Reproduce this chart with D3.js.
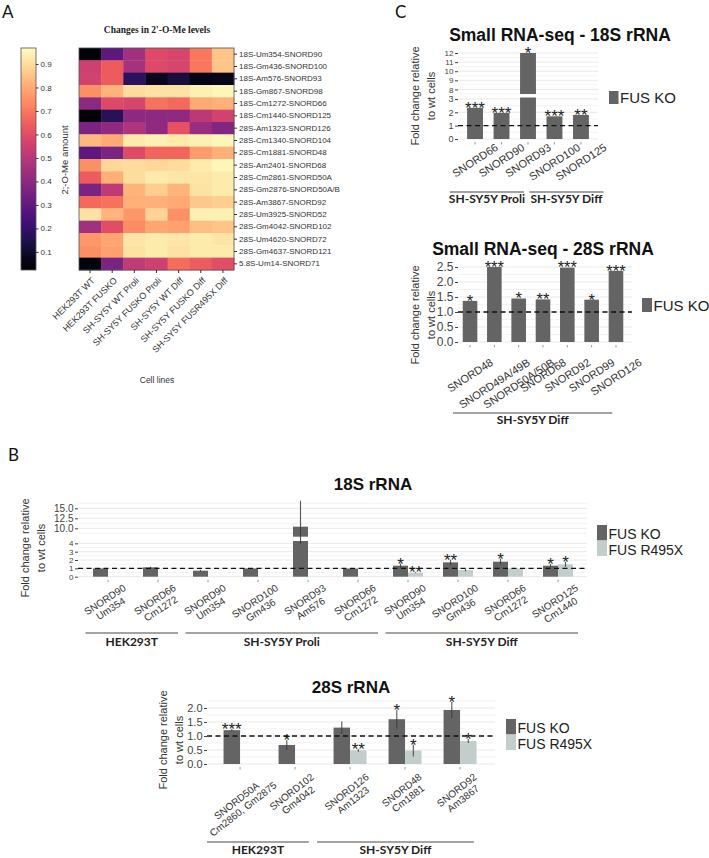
<!DOCTYPE html>
<html>
<head>
<meta charset="utf-8">
<script src="https://cdn.jsdelivr.net/npm/d3@7"></script>
<style>
  body { margin: 0; background: #fff; }
  svg { display: block; }
</style>
</head>
<body>
<svg id="fig" width="709" height="858"></svg>
<script>
// ---------- A: heatmap of 2'-O-Me levels ----------
const cellLines = ["HEK293T WT", "HEK293T FUSKO", "SH-SY5Y WT Proli", "SH-SY5Y FUSKO Proli",
  "SH-SY5Y WT Diff", "SH-SY5Y FUSKO Diff", "SH-SY5Y FUSR495X Diff"]
const sites = ["18S-Um354-SNORD90", "18S-Gm436-SNORD100", "18S-Am576-SNORD93", "18S-Gm867-SNORD98",
  "18S-Cm1272-SNORD66", "18S-Cm1440-SNORD125", "28S-Am1323-SNORD126", "28S-Cm1340-SNORD104",
  "28S-Cm1881-SNORD48", "28S-Am2401-SNORD68", "28S-Cm2861-SNORD50A", "28S-Gm2876-SNORD50A/B",
  "28S-Am3867-SNORD92", "28S-Um3925-SNORD52", "28S-Gm4042-SNORD102", "28S-Um4620-SNORD72",
  "28S-Gm4637-SNORD121", "5.8S-Um14-SNORD71"]
const meLevels = [
  [0.04, 0.29, 0.45, 0.59, 0.57, 0.70, 0.85],
  [0.55, 0.64, 0.46, 0.59, 0.57, 0.70, 0.85],
  [0.56, 0.64, 0.18, 0.08, 0.13, 0.06, 0.07],
  [0.75, 0.82, 0.90, 0.91, 0.91, 0.94, 0.95],
  [0.40, 0.59, 0.57, 0.69, 0.67, 0.80, 0.81],
  [0.04, 0.17, 0.40, 0.40, 0.41, 0.51, 0.56],
  [0.36, 0.41, 0.48, 0.41, 0.61, 0.43, 0.38],
  [0.83, 0.80, 0.93, 0.94, 0.93, 0.94, 0.95],
  [0.29, 0.36, 0.59, 0.66, 0.66, 0.77, 0.81],
  [0.75, 0.89, 0.90, 0.89, 0.90, 0.93, 0.95],
  [0.64, 0.81, 0.90, 0.93, 0.92, 0.92, 0.93],
  [0.36, 0.52, 0.82, 0.87, 0.82, 0.91, 0.93],
  [0.67, 0.69, 0.81, 0.81, 0.80, 0.86, 0.87],
  [0.91, 0.82, 0.76, 0.88, 0.75, 0.94, 0.94],
  [0.45, 0.60, 0.74, 0.79, 0.78, 0.84, 0.85],
  [0.76, 0.79, 0.92, 0.93, 0.92, 0.93, 0.92],
  [0.75, 0.78, 0.91, 0.93, 0.91, 0.93, 0.93],
  [0.05, 0.36, 0.52, 0.55, 0.68, 0.64, 0.60]
]
const meTicks = [0.1, 0.2, 0.3, 0.4, 0.5, 0.6, 0.7, 0.8, 0.9]

// ---------- C: small RNA-seq ----------
const seq18Names = ["SNORD66", "SNORD90", "SNORD93", "SNORD100", "SNORD125"]
const seq18Fold = [2.33, 1.95, 12.0, 1.7, 1.8]
const seq18Stars = ["***", "***", "*", "***", "**"]
const seq18Groups = [["SH-SY5Y Proli", 0, 1], ["SH-SY5Y Diff", 3, 4]]
const seq18LoTicks = [0, 1, 2, 3]
const seq18HiTicks = [8, 9, 10, 11, 12]

const seq28Names = ["SNORD48", "SNORD49A/49B", "SNORD50A/50B", "SNORD68", "SNORD92", "SNORD99", "SNORD126"]
const seq28Fold = [1.37, 2.5, 1.45, 1.42, 2.48, 1.41, 2.37]
const seq28Stars = ["*", "***", "*", "**", "***", "*", "***"]
const seq28Groups = [["SH-SY5Y Diff", 0, 6]]
const seq28Ticks = [0, 0.5, 1, 1.5, 2, 2.5]

// ---------- B: qPCR fold changes ----------
const seriesNames = ["FUS KO", "FUS R495X"]

const b18Probes = [["SNORD90", "Um354"], ["SNORD66", "Cm1272"], ["SNORD90", "Um354"], ["SNORD100", "Gm436"],
  ["SNORD93", "Am576"], ["SNORD66", "Cm1272"], ["SNORD90", "Um354"], ["SNORD100", "Gm436"],
  ["SNORD66", "Cm1272"], ["SNORD125", "Cm1440"]]
const b18Ko = [0.98, 1.12, 0.72, 0.99, 10.4, 0.97, 1.32, 1.72, 1.8, 1.32]
const b18KoErr = [0.03, 0.08, 0.1, 0.03, 6.5, 0.03, 0.25, 0.3, 0.35, 0.2]
const b18Mut = [null, null, null, null, null, null, 0.48, 0.8, 0.98, 1.48]
const b18MutErr = [null, null, null, null, null, null, 0.05, 0.15, 0.04, 0.3]
const b18KoStars = ["", "", "", "", "", "", "*", "**", "*", "*"]
const b18MutStars = ["", "", "", "", "", "", "**", "", "", "*"]
const b18Groups = [["HEK293T", 0, 1], ["SH-SY5Y Proli", 2, 5], ["SH-SY5Y Diff", 6, 9]]
const b18LoTicks = [0, 1, 2, 3, 4]
const b18HiTicks = [10, 12.5, 15]

const b28Probes = [["SNORD50A", "Cm2860, Gm2875"], ["SNORD102", "Gm4042"], ["SNORD126", "Am1323"],
  ["SNORD48", "Cm1881"], ["SNORD92", "Am3867"]]
const b28Ko = [1.21, 0.68, 1.3, 1.6, 1.93]
const b28KoErr = [0.04, 0.17, 0.22, 0.33, 0.29]
const b28Mut = [null, null, 0.49, 0.48, 0.82]
const b28MutErr = [null, null, 0.05, 0.21, 0.07]
const b28KoStars = ["***", "*", "", "*", "*"]
const b28MutStars = ["", "", "**", "*", "*"]
const b28Groups = [["HEK293T", 0, 1], ["SH-SY5Y Diff", 2, 4]]
const b28Ticks = [0, 0.5, 1, 1.5, 2]

const svg = d3.select("#fig")
const SANS = "'Liberation Sans', Arial, sans-serif"
const CAL = "Lato, 'Open Sans', sans-serif"
const KO = "#646464", MUT = "#c3cdcc"

// panel letters
svg.append("g").attr("font-family", CAL).attr("font-size", 17).attr("fill", "#111")
  .selectAll("text").data([["A", 2, 18], ["B", 8, 461], ["C", 395, 18]]).join("text")
  .attr("x", d => d[1]).attr("y", d => d[2]).text(d => d[0])

// ===== heatmap =====
const hm = { x0: 79, x1: 234, y0: 48, y1: 270 }
const hx = d3.scaleBand().domain(cellLines).range([hm.x0, hm.x1])
const hy = d3.scaleBand().domain(sites).range([hm.y0, hm.y1])
const meColor = d3.scaleSequential(d3.interpolateMagma).domain([0.023, 0.968])

const heat = svg.append("g")
heat.selectAll("g.row").data(meLevels).join("g").attr("class", "row")
  .attr("transform", (d, r) => `translate(0,${hy(sites[r])})`)
  .selectAll("rect").data(d => d).join("rect")
    .attr("x", (d, c) => hx(cellLines[c]))
    .attr("width", hx.bandwidth() + 0.4)
    .attr("height", hy.bandwidth() + 0.4)
    .attr("fill", d => meColor(d))
heat.append("rect").attr("x", hm.x0).attr("y", hm.y0)
  .attr("width", hm.x1 - hm.x0).attr("height", hm.y1 - hm.y0)
  .attr("fill", "none").attr("stroke", "#555").attr("stroke-width", 0.8)

heat.append("g").attr("transform", `translate(${hm.x1},0)`)
  .call(d3.axisRight(hy).tickSize(3).tickPadding(2))
  .call(g => g.select(".domain").remove())
  .attr("font-family", SANS).attr("font-size", 8).attr("color", "#333")

heat.append("g").attr("transform", `translate(0,${hm.y1})`)
  .call(d3.axisBottom(hx).tickSize(3))
  .call(g => g.select(".domain").remove())
  .attr("font-family", SANS).attr("font-size", 9).attr("color", "#333")
  .selectAll("text")
    .attr("text-anchor", "end").attr("x", -4).attr("y", 8.5).attr("dy", "0.35em")
    .attr("transform", "rotate(-45)")

svg.append("text").attr("x", 157).attr("y", 33).attr("text-anchor", "middle")
  .attr("font-family", "'Liberation Serif', 'Times New Roman', serif").attr("font-weight", "bold")
  .attr("font-size", 9.5).attr("fill", "#222").text("Changes in 2'-O-Me levels")
svg.append("text").attr("x", 157).attr("y", 383).attr("text-anchor", "middle")
  .attr("font-family", SANS).attr("font-size", 8.5).attr("fill", "#333").text("Cell lines")

// colour bar
const cb = { x: 21, w: 15 }
const cbY = d3.scaleLinear().domain(meColor.domain()).range([hm.y1, hm.y0])
const grad = svg.append("defs").append("linearGradient").attr("id", "magma")
  .attr("x1", 0).attr("y1", 1).attr("x2", 0).attr("y2", 0)
grad.selectAll("stop").data(d3.range(0, 1.0001, 0.05)).join("stop")
  .attr("offset", d => d)
  .attr("stop-color", d => d3.interpolateMagma(d))
svg.append("rect").attr("x", cb.x).attr("y", hm.y0).attr("width", cb.w).attr("height", hm.y1 - hm.y0)
  .attr("fill", "url(#magma)").attr("stroke", "#555").attr("stroke-width", 0.8)
svg.append("g").attr("transform", `translate(${cb.x + cb.w},0)`)
  .call(d3.axisRight(cbY).tickValues(meTicks).tickFormat(d3.format(".1f")).tickSize(2.5).tickPadding(2))
  .call(g => g.select(".domain").remove())
  .attr("font-family", SANS).attr("font-size", 8).attr("color", "#333")
svg.append("text").attr("transform", "translate(68,160) rotate(-90)").attr("text-anchor", "middle")
  .attr("font-family", SANS).attr("font-size", 9.5).attr("fill", "#333").text("2;-O-Me amount")

// ===== bar chart helpers =====
function brokenY(lo, hi) {
  const loMax = lo.domain()[1]
  const y = v => (!hi || v <= loMax) ? lo(v) : hi(Math.max(v, hi.domain()[0]))
  y.segs = v => (!hi || v <= loMax)
    ? [[lo(0), lo(v)]]
    : [[lo(0), lo(loMax)], [hi(hi.domain()[0]), hi(v)]]
  return y
}

// rotated (possibly two-line) labels: box centred on the tick, top edge on `top`
function tiltLabels(g, items, xAt, top, angle, size, lineH) {
  items.forEach((lines, i) => {
    const outer = g.append("g").attr("transform", `translate(${xAt(i)},${top})`)
    const inner = outer.append("g")
    const txt = inner.append("text").attr("text-anchor", "middle")
      .attr("font-size", size).attr("fill", "#333")
    lines.forEach((t, k) => txt.append("tspan").attr("x", 0).attr("y", k * lineH).text(t))
    inner.attr("transform", `rotate(${-angle})`)
    const b = outer.node().getBBox()
    inner.attr("transform", `translate(${-(b.x + b.width / 2)},${-b.y}) rotate(${-angle})`)
  })
}

function barPanel(p) {
  const g = svg.append("g").attr("font-family", SANS)
  const x = d3.scaleBand().domain(d3.range(p.labels.length)).range(p.xRange)
    .paddingInner(0.4).paddingOuter(p.outer)
  const sub = d3.scaleBand().domain(d3.range(p.series.length)).range([0, x.bandwidth()])
  const y = brokenY(p.lo, p.hi)
  const [px0, px1] = p.plotX
  const cx = i => x(i) + x.bandwidth() / 2

  // grid
  const segs = [[p.lo, p.gridLo, p.loTicks]]
  if (p.hi) segs.push([p.hi, p.gridHi, p.hiTicks])
  segs.forEach(([sc, step, ticks]) => {
    const [d0, d1] = sc.domain()
    const vals = d3.range(Math.ceil(d0 / step - 1e-6) * step, d1 + 1e-6, step)
    g.append("g").selectAll("line").data(vals).join("line")
      .attr("x1", px0).attr("x2", px1).attr("y1", d => sc(d)).attr("y2", d => sc(d))
      .attr("stroke", d => ticks.some(t => Math.abs(t - d) < 1e-6) ? "#e3e3e3" : "#f0f0f0")
      .attr("stroke-width", 0.8)
  })

  // y axes
  const yAxis = (sc, ticks, fmt, size) => g.append("g").attr("transform", `translate(${px0},0)`)
    .call(d3.axisLeft(sc).tickValues(ticks).tickFormat(fmt).tickSize(3).tickPadding(1.5))
    .call(a => a.select(".domain").remove())
    .attr("font-family", SANS).attr("font-size", size).attr("color", "#444")
  yAxis(p.lo, p.loTicks, p.fmtLo, p.tickSizeLo || p.tickSize)
  if (p.hi) yAxis(p.hi, p.hiTicks, p.fmtHi, p.tickSize)

  // x ticks
  g.append("g").attr("transform", `translate(0,${p.lo(0) + 3})`)
    .call(d3.axisBottom(x).tickSize(2.5).tickFormat(""))
    .call(a => a.select(".domain").remove())
    .attr("color", "#999")

  // bars, error bars, stars
  p.series.forEach((s, si) => {
    const sg = g.append("g")
    s.vals.forEach((v, i) => {
      if (v == null) return
      const bx = x(i) + sub(si), bw = sub.bandwidth()
      sg.selectAll(null).data(y.segs(v)).join("rect")
        .attr("x", bx).attr("width", bw)
        .attr("y", d => d[1]).attr("height", d => d[0] - d[1])
        .attr("fill", s.color)
      const e = s.errs ? s.errs[i] : 0
      if (e) {
        sg.append("line").attr("x1", bx + bw / 2).attr("x2", bx + bw / 2)
          .attr("y1", y(v + e)).attr("y2", y(Math.max(0, v - e)))
          .attr("stroke", "#3a3a3a").attr("stroke-width", 1.1).attr("stroke-opacity", 0.85)
      }
      if (s.stars && s.stars[i]) {
        sg.append("text").attr("x", bx + bw / 2).attr("y", y(v + (e || 0)) + p.starDy)
          .attr("text-anchor", "middle").attr("font-size", p.starSize).attr("fill", "#222")
          .text(s.stars[i])
      }
    })
  })

  // reference line at fold change 1
  g.append("line").attr("x1", px0).attr("x2", px1).attr("y1", y(1)).attr("y2", y(1))
    .attr("stroke", "#111").attr("stroke-width", 1.3).attr("stroke-dasharray", "5,3.5")

  // category labels
  tiltLabels(g, p.labels, cx, p.labelTop, p.angle, p.labelSize, p.lineH)

  // groups
  const step = x.step()
  p.groups.forEach(([name, a, b]) => {
    const l = cx(a) - p.gext[0] * step, r = cx(b) + p.gext[1] * step
    g.append("line").attr("x1", l).attr("x2", r).attr("y1", p.groupY).attr("y2", p.groupY)
      .attr("stroke", "#333").attr("stroke-width", 0.9)
    g.append("text").attr("x", (l + r) / 2).attr("y", p.groupY + p.groupDy)
      .attr("text-anchor", "middle").attr("font-family", CAL).attr("font-weight", "bold")
      .attr("font-size", p.groupSize).attr("fill", "#222").text(name)
  })

  // legend
  const lg = g.append("g").selectAll("g").data(p.series).join("g")
    .attr("transform", (d, i) => `translate(${p.legend[0]},${p.legend[1] + i * p.legend[3]})`)
  lg.append("rect").attr("width", p.legend[2]).attr("height", p.legend[3]).attr("fill", d => d.color)
  lg.append("text").attr("x", p.legend[2] + 1.5).attr("y", p.legend[3] - 1.5)
    .attr("font-size", p.legend[4]).attr("fill", "#222").text(d => d.name)

  // y title
  const yt = g.append("text").attr("transform", `translate(${p.yTitle[0]},${p.yTitle[1]}) rotate(-90)`)
    .attr("text-anchor", "middle").attr("font-size", 11).attr("fill", "#333")
  yt.append("tspan").attr("x", 0).attr("y", 0).text("Fold change relative")
  yt.append("tspan").attr("x", 0).attr("y", 16).text("to wt cells")

  // title
  g.append("text").attr("x", p.title[1]).attr("y", p.title[2]).attr("text-anchor", "middle")
    .attr("font-weight", "bold").attr("font-size", p.title[3]).attr("fill", "#111").text(p.title[0])
}

const fmtInt = d3.format("d"), fmt1 = d3.format(".1f")

// ===== C: 18S =====
barPanel({
  labels: seq18Names.map(d => [d]),
  series: [{ name: seriesNames[0], vals: seq18Fold, stars: seq18Stars, color: KO }],
  xRange: [456.5, 599.5], outer: 0.4, plotX: [458, 598],
  lo: d3.scaleLinear().domain([0, 3.11]).range([139, 97.5]),
  hi: d3.scaleLinear().domain([7.5, 12]).range([94, 53]),
  loTicks: seq18LoTicks, hiTicks: seq18HiTicks, fmtLo: fmtInt, fmtHi: fmtInt,
  gridLo: 0.5, gridHi: 0.5, tickSize: 8, tickSizeLo: 9,
  starSize: 17, starDy: 6,
  labelTop: 141, angle: 33, labelSize: 11, lineH: 11,
  groups: seq18Groups, gext: [0.95, 0.85], groupY: 192, groupDy: 11, groupSize: 12,
  legend: [609, 91, 9.5, 13, 15],
  yTitle: [419, 96],
  title: ["Small RNA-seq - 18S rRNA", 560, 41, 17.5]
})

// ===== C: 28S =====
barPanel({
  labels: seq28Names.map(d => [d]),
  series: [{ name: seriesNames[0], vals: seq28Fold, stars: seq28Stars, color: KO }],
  xRange: [453, 633], outer: 0.4, plotX: [458, 632],
  lo: d3.scaleLinear().domain([0, 2.6]).range([342, 264]),
  hi: null,
  loTicks: seq28Ticks, fmtLo: fmt1,
  gridLo: 0.25, tickSize: 12,
  starSize: 16.5, starDy: 5.8,
  labelTop: 356, angle: 33, labelSize: 11, lineH: 11,
  groups: seq28Groups, gext: [0.7, -0.15], groupY: 413, groupDy: 11, groupSize: 12,
  legend: [642, 298, 10, 14, 15],
  yTitle: [419, 315],
  title: ["Small RNA-seq - 28S rRNA", 543, 254.5, 17.5]
})

// ===== B: 18S =====
barPanel({
  labels: b18Probes,
  series: [
    { name: seriesNames[0], vals: b18Ko, errs: b18KoErr, stars: b18KoStars, color: KO },
    { name: seriesNames[1], vals: b18Mut, errs: b18MutErr, stars: b18MutStars, color: MUT }
  ],
  xRange: [79, 587], outer: 0.28, plotX: [78, 587],
  lo: d3.scaleLinear().domain([0, 4.28]).range([576.7, 541]),
  hi: d3.scaleLinear().domain([7.9, 16.3]).range([536.7, 503.1]),
  loTicks: b18LoTicks, hiTicks: b18HiTicks, fmtLo: fmtInt, fmtHi: fmt1,
  gridLo: 0.5, gridHi: 1.25, tickSize: 10, tickSizeLo: 8,
  starSize: 17, starDy: 6,
  labelTop: 582, angle: 33, labelSize: 10, lineH: 10.5,
  groups: b18Groups, gext: [0.45, 0.4], groupY: 633, groupDy: 13, groupSize: 12,
  legend: [597, 525, 10, 15.5, 14],
  yTitle: [29, 548],
  title: ["18S rRNA", 373, 490, 17]
})

// ===== B: 28S =====
barPanel({
  labels: b28Probes,
  series: [
    { name: seriesNames[0], vals: b28Ko, errs: b28KoErr, stars: b28KoStars, color: KO },
    { name: seriesNames[1], vals: b28Mut, errs: b28MutErr, stars: b28MutStars, color: MUT }
  ],
  xRange: [205.4, 494.7], outer: 0.33, plotX: [207, 495],
  lo: d3.scaleLinear().domain([0, 2.3]).range([764, 699.6]),
  hi: null,
  loTicks: b28Ticks, fmtLo: fmt1,
  gridLo: 0.25, tickSize: 11,
  starSize: 17, starDy: 6,
  labelTop: 771, angle: 38, labelSize: 10, lineH: 10.5,
  groups: b28Groups, gext: [0.6, 0.25], groupY: 842, groupDy: 12, groupSize: 12,
  legend: [506, 719, 10, 15.5, 14],
  yTitle: [167, 740],
  title: ["28S rRNA", 351, 693, 17]
})
</script>
</body>
</html>
